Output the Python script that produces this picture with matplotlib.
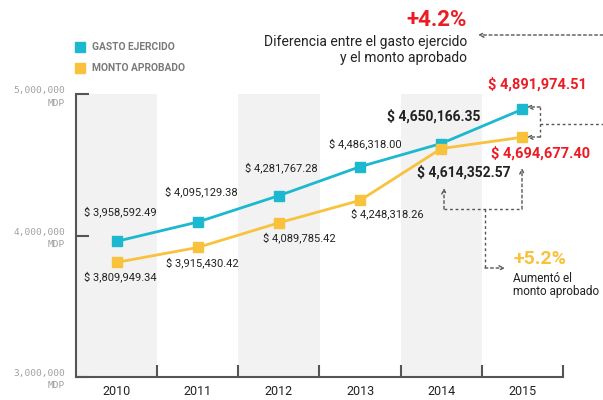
import matplotlib.pyplot as plt

plt.rcParams['font.family'] = ['Roboto', 'DejaVu Sans']

# data
years = ['2010', '2011', '2012', '2013', '2014', '2015']
gasto_ejercido = [3958592.49, 4095129.38, 4281767.28, 4486318.00, 4650166.35, 4891974.51]
monto_aprobado = [3809949.34, 3915430.42, 4089785.42, 4248318.26, 4614352.57, 4694677.40]
y_ticks = [3000000, 4000000, 5000000]
y_tick_labels = ['3,000,000\nMDP', '4,000,000\nMDP', '5,000,000\nMDP']

CYAN = '#1cb8cf'
YELLOW = '#f8c23c'
RED = '#ec1c24'
DARK = '#222222'
AXIS = '#555555'
W, H = 603, 400


def money(v):
    return '$ {:,.2f}'.format(v)


def fig_xy(px, py):
    # pixel position measured from top-left -> figure fraction
    return px / W, 1 - py / H


fig = plt.figure(figsize=(W / 100, H / 100), dpi=100)
ax = fig.add_axes([76 / W, 23 / H, 487 / W, 283 / H])

x = list(range(len(years)))
for i in x[::2]:
    ax.axvspan(i - 0.5, i + 0.5, color='#f2f2f2', lw=0, zorder=0)

ax.plot(x, gasto_ejercido, color=CYAN, lw=2, marker='s', ms=7.5, zorder=3)
ax.plot(x, monto_aprobado, color=YELLOW, lw=2, marker='s', ms=7.5, zorder=3)

ax.set_xlim(-0.5, len(years) - 0.5)
ax.set_ylim(3000000, 5000000)

# axes styling
for s in ['top', 'right']:
    ax.spines[s].set_visible(False)
for s in ['left', 'bottom']:
    ax.spines[s].set_color(AXIS)
    ax.spines[s].set_linewidth(1.5)

ax.set_yticks(y_ticks)
ax.set_yticklabels(y_tick_labels, fontfamily='DejaVu Sans Mono', fontsize=6.8,
                   color='#a0a0a0', linespacing=1.5)
ax.tick_params(axis='y', direction='in', length=9, width=1.5, color=AXIS, pad=8)

ax.set_xticks(x)
ax.set_xticklabels(years, fontsize=9, color=DARK)
ax.set_xticks([i + 0.5 for i in x], minor=True)
ax.tick_params(axis='x', which='major', length=0, pad=6)
ax.tick_params(axis='x', which='minor', direction='in', length=9, width=1.5, color=AXIS)

# point labels (offsets in pixels)
ej_offsets = [(4, 30), (4, 30), (2, 28), (5, 23), (-8, 27), (15, 25)]
ap_offsets = [(4, -14), (5, -15), (20, -15), (27, -13), (23, -24), (18, -16)]
for i in x:
    for vals, offs in ((gasto_ejercido, ej_offsets), (monto_aprobado, ap_offsets)):
        if i == 5:
            style = dict(fontsize=10.5, fontweight='bold', color=RED)
        elif i == 4:
            style = dict(fontsize=10, fontweight='bold', color=DARK)
        else:
            style = dict(fontsize=8, color=DARK)
        ax.annotate(money(vals[i]), (i, vals[i]), xytext=offs[i], textcoords='offset pixels',
                    ha='center', va='center', zorder=4, **style)

# legend
for py, label, c in ((47, 'GASTO EJERCIDO', CYAN), (68, 'MONTO APROBADO', YELLOW)):
    fig.patches.append(plt.Rectangle(fig_xy(75, py + 5), 10 / W, 10 / H, color=c,
                                     transform=fig.transFigure))
    fig.text(*fig_xy(92, py), label, fontsize=7.4, fontweight='bold', color='#7a7a7a', va='center')

# headline annotations
fig.text(*fig_xy(467, 20), '+4.2%', fontsize=16, fontweight='bold', color=RED, ha='right', va='center')
fig.text(*fig_xy(467, 50), 'Diferencia entre el gasto ejercido\ny el monto aprobado',
         fontsize=10, color=DARK, ha='right', va='center', linespacing=1.1)
fig.text(*fig_xy(513, 259), '+5.2%', fontsize=14, fontweight='bold', color=YELLOW, va='center')
fig.text(*fig_xy(513, 285), 'Aumentó el\nmonto aprobado', fontsize=8.5, color=DARK,
         va='center', linespacing=1.05)

dash = dict(color=AXIS, lw=1, linestyle=(0, (2, 2)))


def arrow(p0, p1):
    ax.annotate('', xy=fig_xy(*p1), xytext=fig_xy(*p0), xycoords='figure fraction',
                textcoords='figure fraction',
                arrowprops=dict(arrowstyle='->', shrinkA=0, shrinkB=0, mutation_scale=8, **dash),
                annotation_clip=False)


def seg(*pts):
    xs, ys = zip(*[fig_xy(*p) for p in pts])
    fig.add_artist(plt.Line2D(xs, ys, transform=fig.transFigure, **dash))


# +4.2% leader
arrow((603, 35), (478, 35))
# bracket on 2015 values
arrow((540, 107), (527, 107))
arrow((540, 137), (527, 137))
seg((540, 107), (540, 137))
seg((540, 124), (603, 124))
# +5.2% bracket
arrow((444, 209), (444, 188))
arrow((522, 209), (522, 168))
seg((444, 209), (522, 209))
seg((485, 209), (485, 268))
arrow((485, 268), (505, 268))

fig.savefig('out.png', dpi=100)
